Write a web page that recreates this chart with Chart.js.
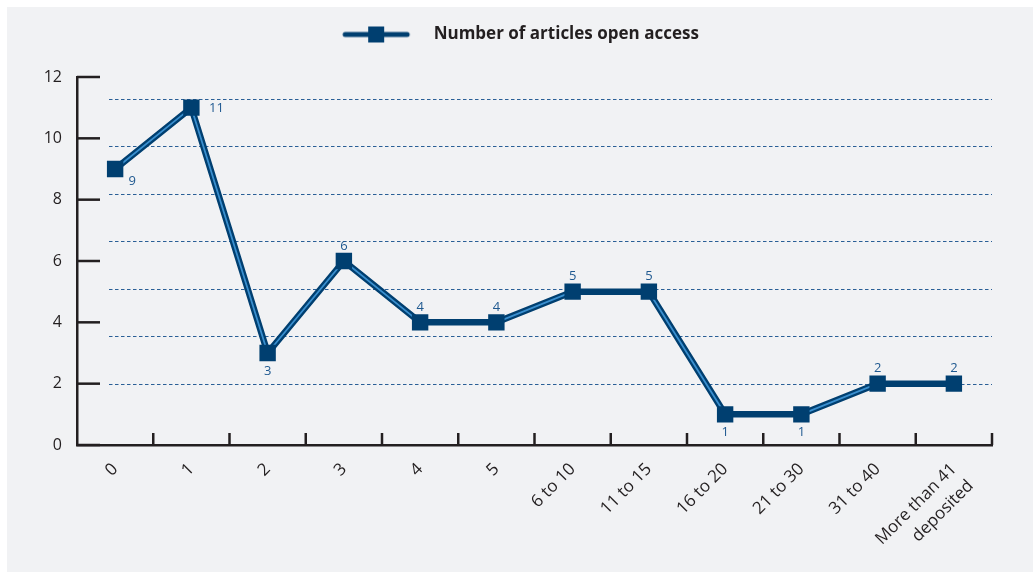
<!DOCTYPE html>
<html>
<head>
<meta charset="utf-8">
<script src="https://cdn.jsdelivr.net/npm/chart.js@4.4.1/dist/chart.umd.min.js"></script>
<style>
  html, body { margin: 0; padding: 0; background: #ffffff; }
  #panel { position: absolute; left: 7px; top: 7px; width: 1026px; height: 565px; background: #f1f2f4; }
  canvas { display: block; }
</style>
</head>
<body>
<div id="panel"><canvas id="chart" width="1026" height="565"></canvas></div>
<script>
const categories = ['0', '1', '2', '3', '4', '5', '6 to 10', '11 to 15', '16 to 20', '21 to 30', '31 to 40', ['More than 41', 'deposited']];
const articleCounts = [9, 11, 3, 6, 4, 4, 5, 5, 1, 1, 2, 2];
const yTicks = [0, 2, 4, 6, 8, 10, 12];
const dottedLines = [2, 3.55, 5.09, 6.64, 8.18, 9.74, 11.29];
const labelSides = ['belowRight', 'right', 'below', 'above', 'above', 'above', 'above', 'above', 'below', 'below', 'above', 'above'];

const NAVY = '#003f70';
const HIGHLIGHT = '#3a8fcf';
const AXIS = '#231f20';
const GUIDE = '#2a5f96';
const VALUE_COLOR = '#1f5990';
const FONT = 'Open Sans';

// legend swatch: short line with a square marker, left margin keeps the row centred
function legendIcon() {
    const c = document.createElement('canvas');
    c.width = 125;
    c.height = 18;
    const g = c.getContext('2d');
    g.strokeStyle = NAVY;
    g.lineWidth = 5;
    g.lineCap = 'round';
    g.beginPath();
    g.moveTo(45, 9);
    g.lineTo(107, 9);
    g.stroke();
    g.fillStyle = NAVY;
    g.fillRect(68, 1, 16, 16);
    return c;
}

// extra room under the legend so the plot starts lower
const legendSpace = {
    id: 'legendSpace',
    beforeInit(chart) {
        if (!chart.legend) return;
        const fit = chart.legend.fit;
        chart.legend.fit = function () {
            fit.call(this);
            this.height = 70;
        };
    }
};

// dotted guides plus inward tick marks on both axes
const axisMarks = {
    id: 'axisMarks',
    beforeDatasetsDraw(chart) {
        const { ctx, chartArea, scales: { x, y } } = chart;
        ctx.save();
        ctx.strokeStyle = GUIDE;
        ctx.lineWidth = 1;
        ctx.setLineDash([3.5, 2.5]);
        dottedLines.forEach(v => {
            const py = Math.round(y.getPixelForValue(v)) + 0.5;
            ctx.beginPath();
            ctx.moveTo(chartArea.left + 32, py);
            ctx.lineTo(chartArea.right, py);
            ctx.stroke();
        });
        ctx.setLineDash([]);
        ctx.strokeStyle = AXIS;
        ctx.lineWidth = 2.5;
        yTicks.forEach(v => {
            const py = y.getPixelForValue(v);
            ctx.beginPath();
            ctx.moveTo(chartArea.left, py);
            ctx.lineTo(chartArea.left + 23, py);
            ctx.stroke();
        });
        categories.forEach((c, i) => {
            const px = x.getPixelForValue(i + 0.5);
            ctx.beginPath();
            ctx.moveTo(px, chartArea.bottom);
            ctx.lineTo(px, chartArea.bottom - 12);
            ctx.stroke();
        });
        ctx.restore();
    }
};

// value labels next to each marker
const valueLabels = {
    id: 'valueLabels',
    afterDatasetsDraw(chart) {
        const { ctx } = chart;
        const meta = chart.getDatasetMeta(2);
        const shift = {
            above: [0, -15],
            below: [0, 18],
            right: [25, 1],
            belowRight: [17, 12]
        };
        ctx.save();
        ctx.fillStyle = VALUE_COLOR;
        ctx.font = `13px "${FONT}"`;
        ctx.textAlign = 'center';
        ctx.textBaseline = 'middle';
        meta.data.forEach((pt, i) => {
            const [dx, dy] = shift[labelSides[i]];
            ctx.fillText(String(articleCounts[i]), pt.x + dx, pt.y + dy);
        });
        ctx.restore();
    }
};

const icon = legendIcon();

new Chart(document.getElementById('chart'), {
    type: 'line',
    data: {
        labels: categories,
        datasets: [
            {
                label: 'line',
                data: articleCounts,
                borderColor: NAVY,
                borderWidth: 6.5,
                pointRadius: 0,
                tension: 0,
                order: 3
            },
            {
                label: 'highlight',
                data: articleCounts,
                borderColor: HIGHLIGHT,
                borderWidth: 1.8,
                pointRadius: 0,
                tension: 0,
                order: 2,
                segment: {
                    borderColor: ctx => ctx.p0.parsed.y === ctx.p1.parsed.y ? 'rgba(0,0,0,0)' : HIGHLIGHT
                }
            },
            {
                label: 'Number of articles open access',
                data: articleCounts,
                showLine: false,
                pointStyle: 'rect',
                pointRadius: 11.6,
                pointBackgroundColor: NAVY,
                pointBorderColor: NAVY,
                pointBorderWidth: 0,
                order: 1
            }
        ]
    },
    options: {
        responsive: false,
        animation: false,
        layout: { padding: { top: 0, right: 41, bottom: 0, left: 0 } },
        plugins: {
            tooltip: { enabled: false },
            legend: {
                display: true,
                position: 'top',
                labels: {
                    usePointStyle: true,
                    pointStyleWidth: 125,
                    padding: 19,
                    color: AXIS,
                    font: { family: FONT, size: 17, weight: 'bold' },
                    generateLabels: () => [{
                        text: 'Number of articles open access',
                        pointStyle: icon,
                        fillStyle: NAVY,
                        strokeStyle: NAVY,
                        lineWidth: 0,
                        hidden: false,
                        datasetIndex: 2,
                        fontColor: AXIS
                    }]
                }
            }
        },
        scales: {
            x: {
                offset: true,
                grid: { display: false, drawTicks: false },
                border: { display: true, color: AXIS, width: 2.5 },
                ticks: {
                    color: AXIS,
                    autoSkip: false,
                    maxRotation: 45,
                    minRotation: 45,
                    padding: 13,
                    font: { family: FONT, size: 17, lineHeight: 1.4 }
                },
                afterFit(scale) { scale.height = 127; }
            },
            y: {
                min: 0,
                max: 12,
                afterBuildTicks(scale) { scale.ticks = yTicks.map(v => ({ value: v })); },
                grid: { display: false, drawTicks: false },
                border: { display: true, color: AXIS, width: 2.5 },
                ticks: {
                    color: AXIS,
                    padding: 15,
                    font: { family: FONT, size: 16 }
                },
                afterFit(scale) { scale.width = 70; }
            }
        }
    },
    plugins: [legendSpace, axisMarks, valueLabels]
});
</script>
</body>
</html>
